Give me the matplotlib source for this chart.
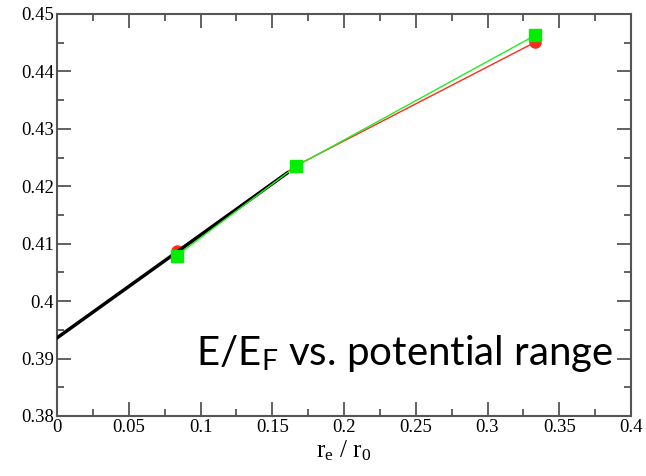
import numpy as np
import matplotlib.pyplot as plt
from matplotlib.ticker import MultipleLocator

plt.rcParams["font.family"] = ["Liberation Serif", "DejaVu Serif"]
plt.rcParams["mathtext.fontset"] = "custom"
plt.rcParams["mathtext.rm"] = "Liberation Serif"
plt.rcParams["mathtext.it"] = "Liberation Serif"

# ----------------------------
# Data
# ----------------------------

ratio = [1 / 12, 1 / 6, 1 / 3]
energy_red = [0.4087, 0.4236, 0.4451]
energy_green = [0.4079, 0.4235, 0.4463]

fit_x = [0.0, 0.1603]
fit_y = [0.3936, 0.4223]

x_ticks = [0, 0.05, 0.1, 0.15, 0.2, 0.25, 0.3, 0.35, 0.4]
x_tick_labels = ["0", "0.05", "0.1", "0.15", "0.2", "0.25", "0.3", "0.35", "0.4"]
y_ticks = [0.38, 0.39, 0.4, 0.41, 0.42, 0.43, 0.44, 0.45]
y_tick_labels = ["0.38", "0.39", "0.4", "0.41", "0.42", "0.43", "0.44", "0.45"]

# ----------------------------
# Plot
# ----------------------------

fig = plt.figure(figsize=(6.46, 4.76), dpi=100)
ax = fig.add_axes([57 / 646, 60 / 476, 574 / 646, 402 / 476])

ax.plot(ratio, energy_red, color="#ff2a1a", lw=1.0,
        marker="o", ms=8, mec="#ff2a1a", mfc="#ff2a1a", zorder=3)
ax.plot(fit_x, fit_y, color="black", lw=2.5, zorder=4)
ax.plot(ratio, energy_green, color="#22ee22", lw=1.0,
        marker="s", ms=8, mec="#00ee00", mfc="#00ee00", zorder=5)

ax.set_xlim(0, 0.4)
ax.set_ylim(0.38, 0.45)

ax.set_xticks(x_ticks)
ax.set_xticklabels(x_tick_labels, fontfamily="Liberation Serif",
                   fontsize=13.5)
ax.set_yticks(y_ticks)
ax.set_yticklabels(y_tick_labels, fontfamily="Liberation Serif",
                   fontsize=13.5)
ax.xaxis.set_minor_locator(MultipleLocator(0.025))
ax.yaxis.set_minor_locator(MultipleLocator(0.005))

ax.tick_params(which="both", direction="in", top=True, right=True,
               color="#555555", width=1.3)
ax.tick_params(which="major", length=10, pad=2)
ax.tick_params(which="minor", length=5)

for sp in ax.spines.values():
    sp.set_color("#555555")
    sp.set_linewidth(1.5)

ax.set_xlabel(r"$\mathrm{r_e\ /\ r_0}$", fontsize=18, labelpad=2)

ax.text(0.97, 0.155, r"E/E$_\mathregular{F}$ vs. potential range",
        transform=ax.transAxes, ha="right", va="center",
        fontsize=29, family="Lato")

fig.savefig("out.png", dpi=100)
